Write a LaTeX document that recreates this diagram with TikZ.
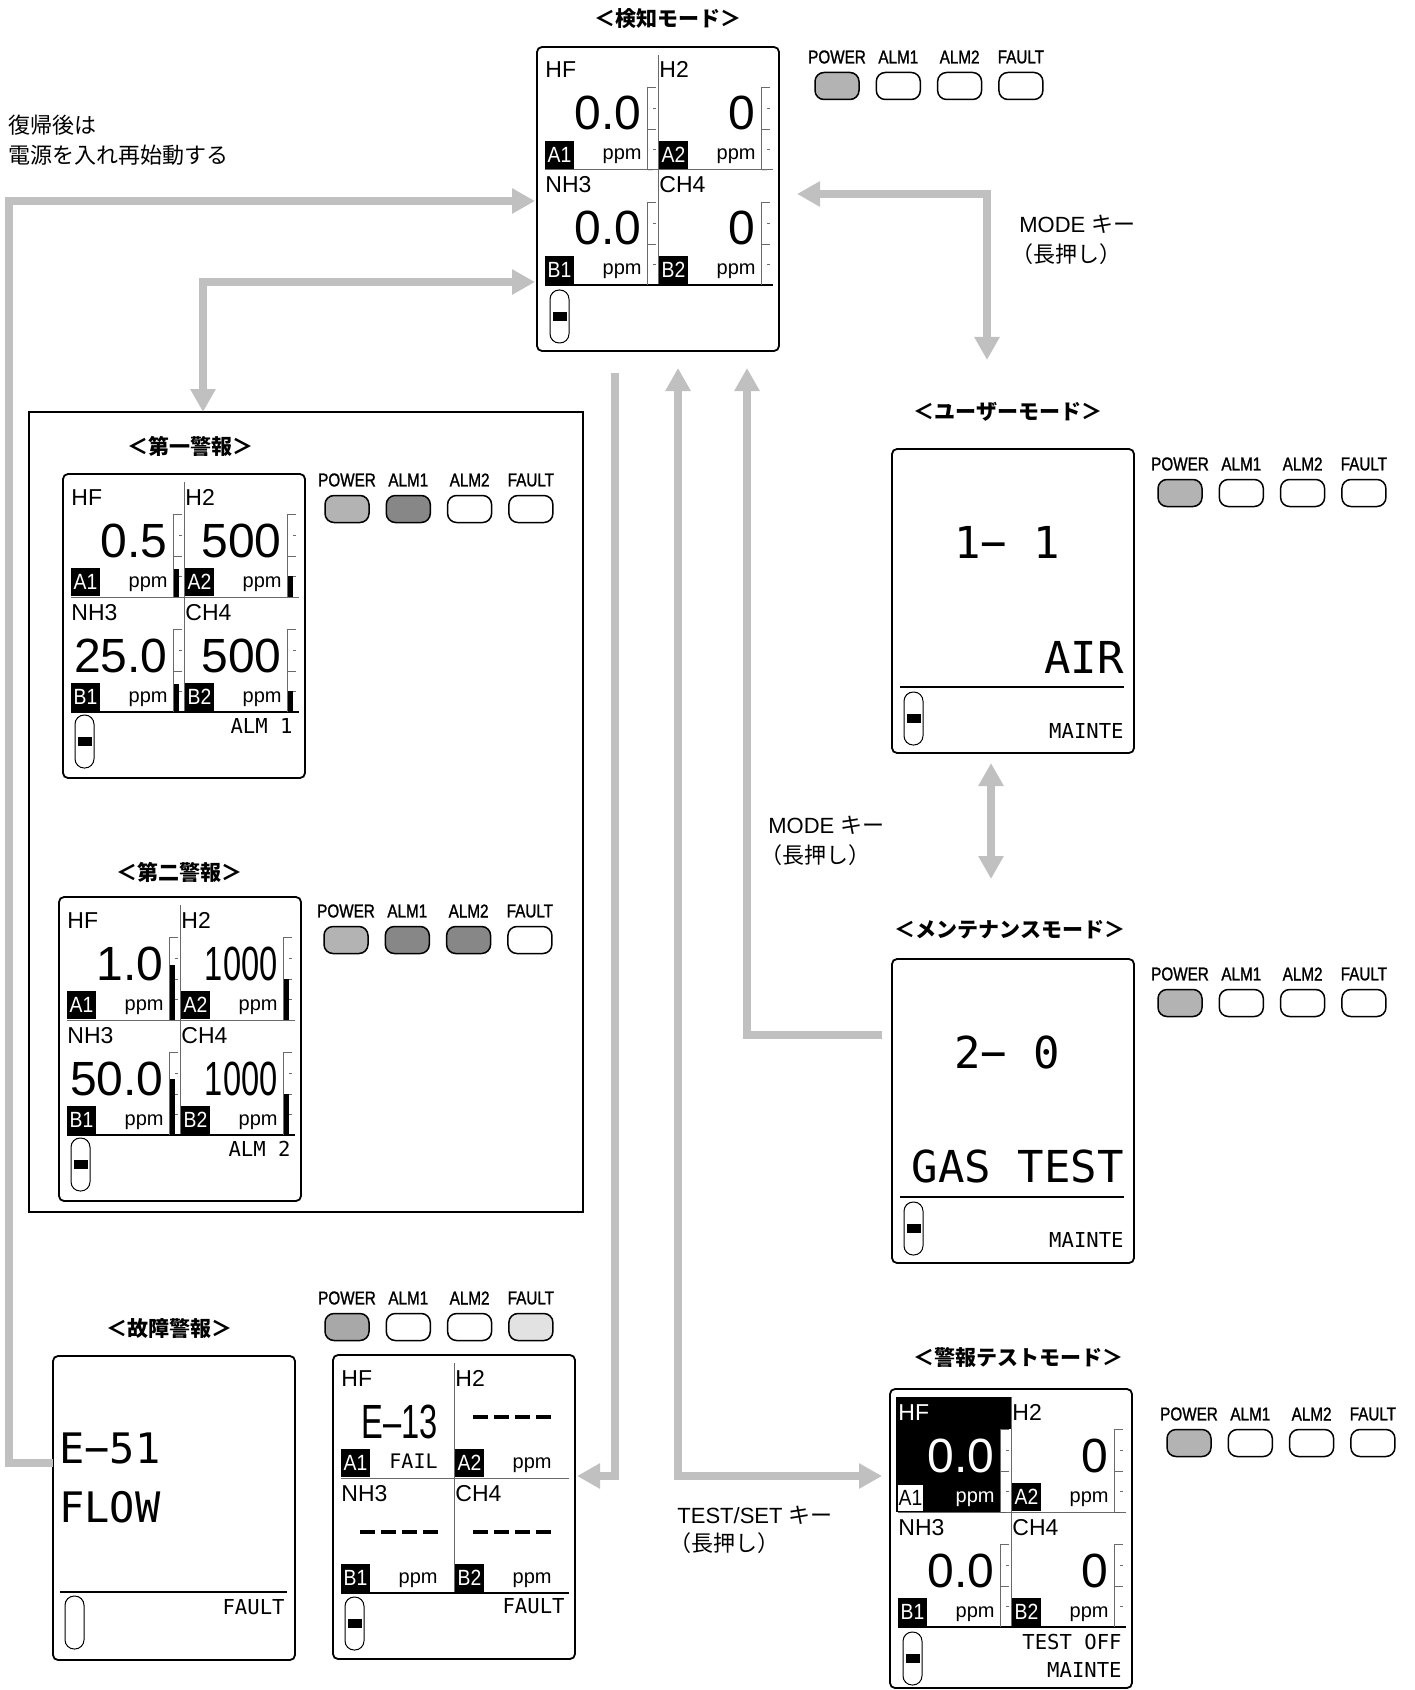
\documentclass[tikz,border=0pt]{standalone}
\usepackage{fontspec}
\setmainfont{Liberation Sans}
\newfontfamily\jp{Noto Sans CJK JP}
\newfontfamily\narrowf[FakeStretch=0.88]{Liberation Sans}
\newfontfamily\ledf[FakeStretch=0.82,FakeBold=1.2]{Liberation Sans}
\newfontfamily\condf[FakeStretch=0.68]{Liberation Sans}
\newfontfamily\segf{DejaVu Sans Mono}
\usetikzlibrary{arrows.meta,calc}
\definecolor{arrowgray}{HTML}{C0C0C0}
\definecolor{powgray}{HTML}{B3B3B3}
\definecolor{powgrayb}{HTML}{A8A8A8}
\definecolor{almgray}{HTML}{878787}
\definecolor{fltgray}{HTML}{E2E2E2}
\definecolor{linegray}{HTML}{6A6A6A}
\tikzset{
 garrow/.style={draw=arrowgray, line width=3.6pt},
 tipT/.tip={Triangle[width=12pt,length=11.5pt]},
 dispbox/.style={draw, line width=0.9pt, rounded corners=2.5pt, minimum width=121pt, minimum height=152pt, inner sep=0pt, outer sep=0pt, anchor=north west},
 chl/.style={font=\fontsize{11.5}{12}\selectfont, inner sep=0pt},
 val/.style={font=\fontsize{24}{24}\selectfont, inner sep=0pt},
 badge/.style={text=white, font=\narrowf\fontsize{11}{11}\selectfont, inner sep=0pt},
 unit/.style={font=\fontsize{10}{10}\selectfont, inner sep=0pt},
 segbig/.style={font=\segf\fontsize{22}{22}\selectfont, inner sep=0pt},
 segmid/.style={font=\segf\fontsize{21}{21}\selectfont, inner sep=0pt},
 segsm/.style={font=\segf\fontsize{10.3}{10.3}\selectfont, inner sep=0pt},
 led/.style={draw, line width=0.75pt, rounded corners=4.5pt, minimum width=22pt, minimum height=13.5pt, inner sep=0pt},
 ledlbl/.style={font=\ledf\fontsize{9.3}{9.3}\selectfont, inner sep=0pt},
 ttl/.style={font=\jp\bfseries\fontsize{10.5}{10.5}\selectfont, inner sep=0pt},
 note/.style={font=\fontsize{11}{11}\selectfont, inner sep=0pt, anchor=west},
 gline/.style={draw=linegray, line width=0.5pt},
 bline/.style={draw=black, line width=0.7pt},
 scl/.style={draw=linegray, line width=0.45pt},
}
\newcommand\cell[7]{%
 \node[chl,anchor=base west] (#1l) at (#2+8,#3+31) {#4};
 \node[val,anchor=base east] (#1v) at (#2+105,#3+83) {#5};
 \fill (#2+8,#3+94) rectangle (#2+37,#3+122);
 \node[badge] (#1b) at (#2+22.5,#3+108) {#6};
 \node[unit,anchor=base east] (#1u) at (#2+105,#3+113) {#7};
}
\newcommand\scalebar[3]{%
 \draw[scl] (#1+9,#2) -- (#1,#2) -- (#1,#2+83);
 \draw[scl] (#1+6,#2+21) -- (#1+9,#2+21);
 \draw[scl] (#1,#2+42) -- (#1+9,#2+42);
 \draw[scl] (#1+6,#2+62) -- (#1+9,#2+62);
 \fill (#1+1,{#2+83-83*#3}) rectangle (#1+6,#2+83);
}
\newcommand\quadlines{%
 \draw[gline] (121,8) -- (121,238);
 \draw[gline] (8,123) -- (236,123);
 \draw[bline] (8,238) -- (236,238);
}
\newcommand\pump[3]{%
 \draw[line width=0.5pt, rounded corners=4.6pt] (#1,#2) rectangle (#1+19,#2+53);
 \ifnum#3=1 \fill (#1+2.5,#2+22) rectangle (#1+16.5,#2+31);\fi
}
\newcommand\ledrow[7]{%
 \foreach \lab/\col/\k in {POWER/#4/0,ALM1/#5/1,ALM2/#6/2,FAULT/#7/3}{%
  \node[led,fill=\col] (#1\k) at ({#2+61.3*\k},#3) {};
  \node[ledlbl] (#1t\k) at ({#2+61.3*\k},#3-29) {\lab};
 }}
\newcommand\dashes[2]{\foreach \i in {0,1,2,3}{\draw[line width=1.7pt] ({#1+\i*21},#2) -- ({#1+\i*21+15},#2);}}
\begin{document}
\begin{tikzpicture}[x=0.5pt,y=-0.5pt]
\useasboundingbox (0,0) rectangle (1414,1690);

% ---------- titles ----------
\node[ttl] (tdet) at (668,19) {＜検知モード＞};
\node[ttl] (ta1) at (190,446) {＜第一警報＞};
\node[ttl] (ta2) at (179,872) {＜第二警報＞};
\node[ttl] (tflt) at (169,1328) {＜故障警報＞};
\node[ttl] (tusr) at (1008,412) {＜ユーザーモード＞};
\node[ttl] (tmnt) at (1010,930) {＜メンテナンスモード＞};
\node[ttl] (ttst) at (1018,1357) {＜警報テストモード＞};

% ---------- alarm frame ----------
\node[draw, line width=1pt, minimum width=277pt, minimum height=400pt, inner sep=0pt, outer sep=0pt, anchor=north west] (alarmframe) at (29,412) {};

% ---------- detect mode ----------
\begin{scope}[shift={(537,47)}]
 \node[dispbox] (det) at (0,0) {};
 \quadlines
 \cell{detA}{0}{0}{HF}{0.0}{A1}{ppm}
 \cell{detB}{114}{0}{H2}{0}{A2}{ppm}
 \cell{detC}{0}{115}{NH3}{0.0}{B1}{ppm}
 \cell{detD}{114}{115}{CH4}{0}{B2}{ppm}
 \scalebar{110}{40}{0}\scalebar{224}{40}{0}\scalebar{110}{155}{0}\scalebar{224}{155}{0}
 \pump{13}{243}{1}
\end{scope}
\ledrow{detL}{837}{86}{powgray}{white}{white}{white}

% ---------- first alarm ----------
\begin{scope}[shift={(63,474)}]
 \node[dispbox] (alm1) at (0,0) {};
 \quadlines
 \cell{aoA}{0}{0}{HF}{0.5}{A1}{ppm}
 \cell{aoB}{114}{0}{H2}{500}{A2}{ppm}
 \cell{aoC}{0}{115}{NH3}{25.0}{B1}{ppm}
 \cell{aoD}{114}{115}{CH4}{500}{B2}{ppm}
 \scalebar{110}{40}{0.34}\scalebar{224}{40}{0.25}\scalebar{110}{155}{0.34}\scalebar{224}{155}{0.25}
 \pump{12}{241}{1}
 \node[segsm,anchor=base east] (aoT) at (230,259) {ALM 1};
\end{scope}
\ledrow{aoL}{347}{509}{powgray}{almgray}{white}{white}

% ---------- second alarm ----------
\begin{scope}[shift={(59,897)}]
 \node[dispbox] (alm2) at (0,0) {};
 \quadlines
 \cell{atA}{0}{0}{HF}{1.0}{A1}{ppm}
 \cell{atB}{114}{0}{H2}{{\condf 1000}}{A2}{ppm}
 \cell{atC}{0}{115}{NH3}{50.0}{B1}{ppm}
 \cell{atD}{114}{115}{CH4}{{\condf 1000}}{B2}{ppm}
 \scalebar{110}{40}{0.66}\scalebar{224}{40}{0.5}\scalebar{110}{155}{0.67}\scalebar{224}{155}{0.5}
 \pump{12}{241}{1}
 \node[segsm,anchor=base east] (atT) at (232,259) {ALM 2};
\end{scope}
\ledrow{atL}{346}{940}{powgray}{almgray}{almgray}{white}

% ---------- fault: E-51 ----------
\begin{scope}[shift={(53,1356)}]
 \node[dispbox] (e51) at (0,0) {};
 \node[segmid,anchor=base west] (e51a) at (6,107) {E−51};
 \node[segmid,anchor=base west] (e51b) at (6,166) {FLOW};
 \draw[bline] (7,236) -- (234,236);
 \pump{12}{240}{0}
 \node[segsm,anchor=base east] (e51c) at (232,258) {FAULT};
\end{scope}

% ---------- fault: 4ch ----------
\begin{scope}[shift={(333,1355)}]
 \node[dispbox] (flt) at (0,0) {};
 \quadlines
 \cell{ftA}{0}{0}{HF}{{\condf E–13}}{A1}{{\segf FAIL}}
 \cell{ftB}{114}{0}{H2}{}{A2}{ppm}
 \cell{ftC}{0}{115}{NH3}{}{B1}{ppm}
 \cell{ftD}{114}{115}{CH4}{}{B2}{ppm}
 \dashes{140}{62}\dashes{27}{177}\dashes{140}{177}
 \pump{12}{242}{1}
 \node[segsm,anchor=base east] (ftT) at (232,258) {FAULT};
\end{scope}
\ledrow{ftL}{347}{1327}{powgrayb}{white}{white}{fltgray}

% ---------- user mode ----------
\begin{scope}[shift={(892,449)}]
 \node[dispbox] (usr) at (0,0) {};
 \node[segbig,anchor=base west] (usr1) at (62,109) {1− 1};
 \node[segbig,anchor=base east] (usr2) at (232,224) {AIR};
 \draw[bline] (8,238) -- (232,238);
 \pump{12}{243}{1}
 \node[segsm,anchor=base east] (usr3) at (232,289) {MAINTE};
\end{scope}
\ledrow{usL}{1180}{493}{powgray}{white}{white}{white}

% ---------- maintenance mode ----------
\begin{scope}[shift={(892,959)}]
 \node[dispbox] (mnt) at (0,0) {};
 \node[segbig,anchor=base west] (mnt1) at (62,109) {2− 0};
 \node[segbig,anchor=base east] (mnt2) at (232,223) {GAS TEST};
 \draw[bline] (8,238) -- (232,238);
 \pump{12}{243}{1}
 \node[segsm,anchor=base east] (mnt3) at (232,288) {MAINTE};
\end{scope}
\ledrow{mnL}{1180}{1003}{powgray}{white}{white}{white}

% ---------- alarm test mode ----------
\begin{scope}[shift={(890,1389)}]
 \node[dispbox, minimum height=149.5pt] (tst) at (0,0) {};
 \fill (6,8) rectangle (110,123);
 \fill (110,8) rectangle (121,40);
 \quadlines
 \node[chl,anchor=base west,text=white] (tsAl) at (8,31) {HF};
 \node[val,anchor=base east,text=white] (tsAv) at (105,83) {0.0};
 \fill[white] (8,96) rectangle (33,122);
 \node[badge,text=black] (tsAb) at (20.5,109) {A1};
 \node[unit,anchor=base east,text=white] (tsAu) at (105,113) {ppm};
 \cell{tsB}{114}{0}{H2}{0}{A2}{ppm}
 \cell{tsC}{0}{115}{NH3}{0.0}{B1}{ppm}
 \cell{tsD}{114}{115}{CH4}{0}{B2}{ppm}
 \scalebar{110}{40}{0}\scalebar{224}{40}{0}\scalebar{110}{155}{0}\scalebar{224}{155}{0}
 \pump{13}{243}{1}
 \node[segsm,anchor=base east] (tsT1) at (232,260) {TEST OFF};
 \node[segsm,anchor=base east] (tsT2) at (232,288) {MAINTE};
\end{scope}
\ledrow{tsL}{1189}{1443}{powgray}{white}{white}{white}

% ---------- notes ----------
\node[note] (n1) at (8,125) {\jp 復帰後は};
\node[note] (n2) at (8,155) {\jp 電源を入れ再始動する};
\node[note] (m1) at (1019,224) {MODE {\jp キー}};
\node[note] (m2) at (1011,254) {\jp （長押し）};
\node[note] (m3) at (768,825) {MODE {\jp キー}};
\node[note] (m4) at (760,855) {\jp （長押し）};
\node[note] (k1) at (677,1515) {TEST/SET {\jp キー}};
\node[note] (k2) at (669,1543) {\jp （長押し）};

% ---------- connectors ----------
\coordinate (a1) at (9,1463);
\coordinate (a2) at (9,201);
\draw[garrow,-tipT] (e51.west |- a1) -- (a1) -- (a2) -- ([xshift=-1pt]det.west |- a2);

\coordinate (b1) at (203,282);
\draw[garrow,tipT-tipT] (alarmframe.north -| b1) -- (b1) -- ([xshift=-1pt]det.west |- b1);

\coordinate (c1) at (987,194);
\coordinate (c2) at (987,360);
\draw[garrow,tipT-tipT] ([xshift=9pt]det.east |- c1) -- (c1) -- (c2);

\coordinate (d1) at (615,373);
\coordinate (d2) at (615,1476);
\draw[garrow,-tipT] (d1) -- (d2) -- ([xshift=1pt]flt.east |- d2);

\coordinate (e1) at (678,368);
\coordinate (e2) at (678,1476);
\draw[garrow,tipT-tipT] (e1) -- (e2) -- ([xshift=-4pt]tst.west |- e2);

\coordinate (f1) at (747,368);
\coordinate (f2) at (747,1035);
\draw[garrow,tipT-] (f1) -- (f2) -- ([xshift=-5pt]mnt.west |- f2);

\coordinate (g1) at (991,763);
\coordinate (g2) at (991,879);
\draw[garrow,tipT-tipT] (g1) -- (g2);
\end{tikzpicture}
\end{document}
